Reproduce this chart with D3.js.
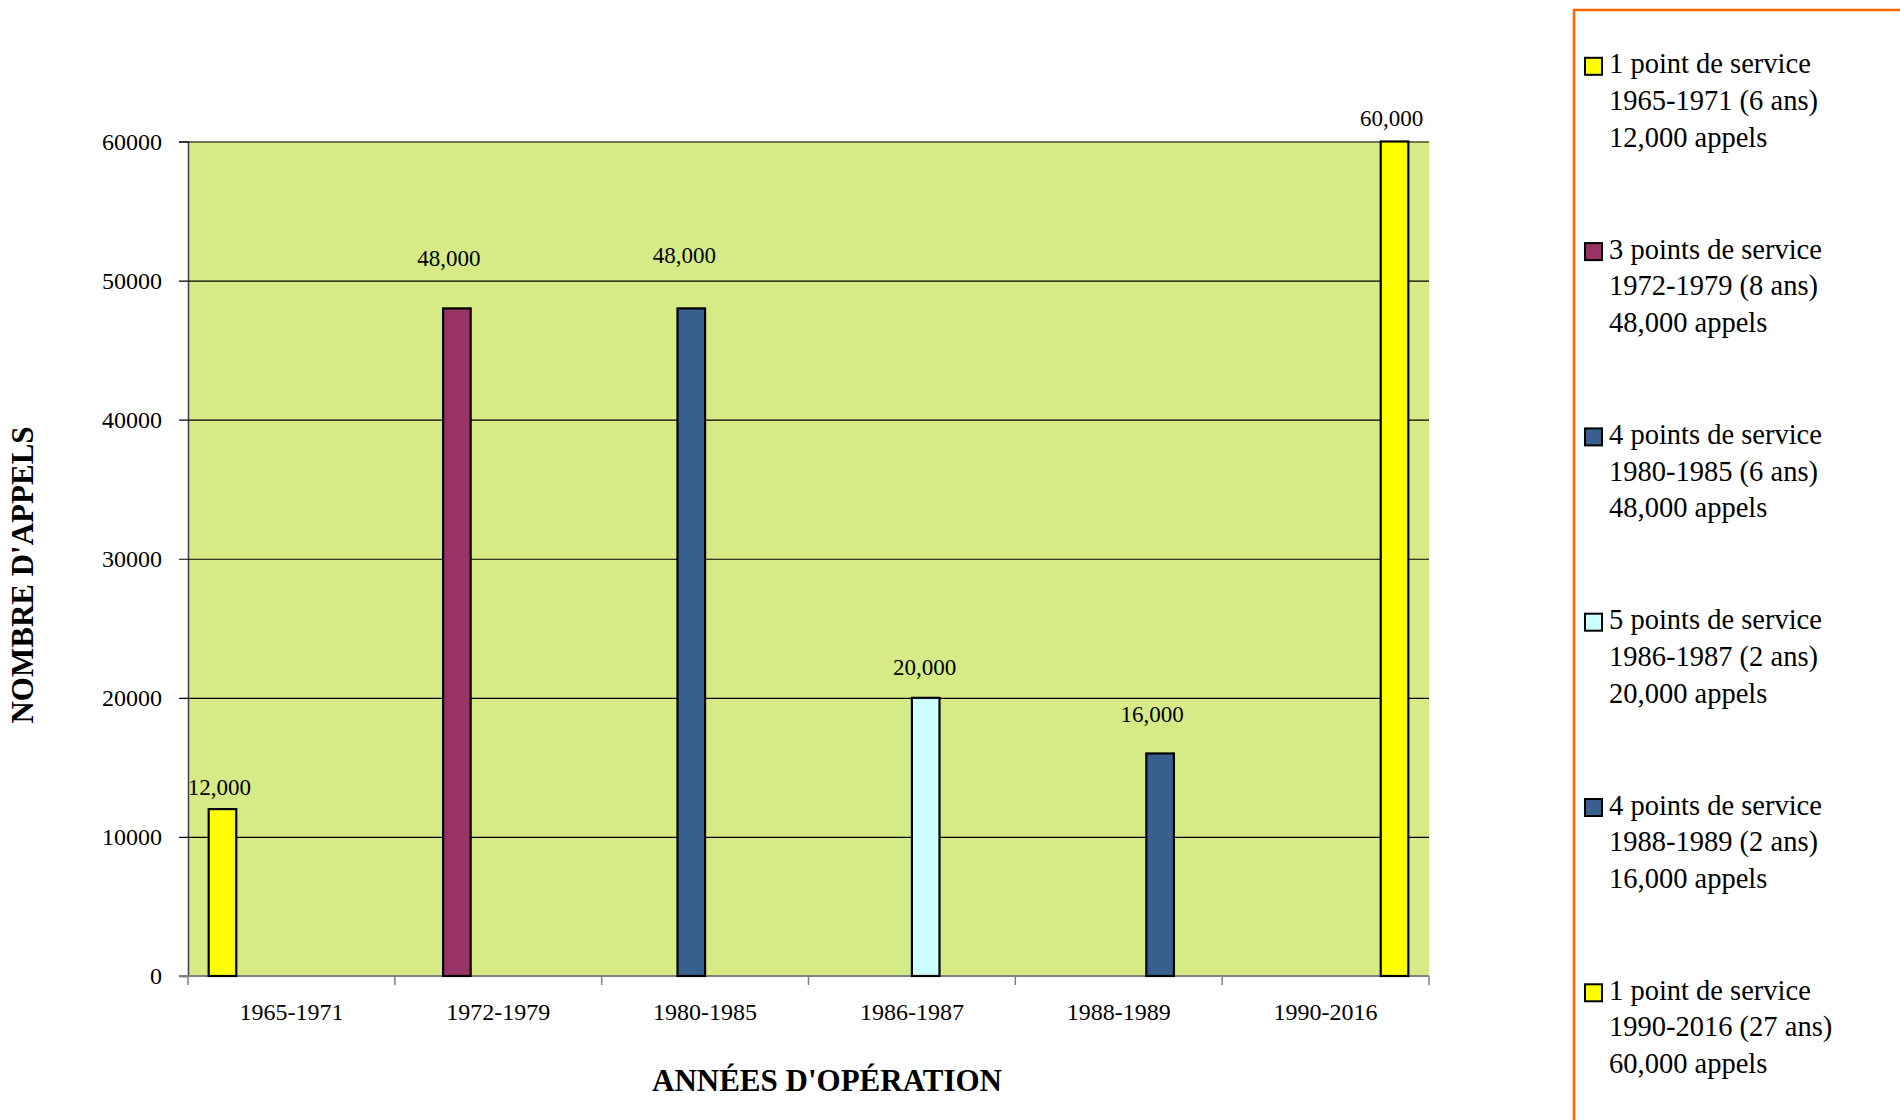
<!DOCTYPE html>
<html>
<head>
<meta charset="utf-8">
<script src="https://cdn.jsdelivr.net/npm/d3@7/dist/d3.min.js"></script>
<style>
  html, body { margin: 0; padding: 0; background: #ffffff; }
  svg { display: block; }
  text { font-family: "Liberation Serif", "DejaVu Serif", serif; fill: #000; }
</style>
</head>
<body>
<svg id="chart" width="1900" height="1120"></svg>
<script>
// Periods of operation (x categories)
const categories = ["1965-1971", "1972-1979", "1980-1985", "1986-1987", "1988-1989", "1990-2016"];
// Calls per period, one series per period
const calls = [12000, 48000, 48000, 20000, 16000, 60000];
// Legend texts
const servicePoints = ["1 point de service", "3 points de service", "4 points de service",
                       "5 points de service", "4 points de service", "1 point de service"];
const periodLabels = ["1965-1971 (6 ans)", "1972-1979 (8 ans)", "1980-1985 (6 ans)",
                      "1986-1987 (2 ans)", "1988-1989 (2 ans)", "1990-2016 (27 ans)"];
// Y axis ticks
const yTicks = [0, 10000, 20000, 30000, 40000, 50000, 60000];

// Series fills
const seriesColors = ["#FFFF00", "#993366", "#37608F", "#CCFFFF", "#37608F", "#FFFF00"];
// Hand-placed value labels: [dx, dy above bar top] in px
const labelNudge = [[-3, 14], [-8, 42], [-7, 45], [-1, 23], [-8, 31], [-3, 16]];

const serif = '"Liberation Serif", "DejaVu Serif", serif';
const svg = d3.select("#chart");
const plot = { left: 188, right: 1429, top: 141.5, bottom: 976 };

const x0 = d3.scaleBand().domain(categories).range([plot.left, plot.right]);
const x1 = d3.scaleBand().domain(d3.range(categories.length))
  .range([0, x0.bandwidth()]).paddingOuter(0.75);
const y = d3.scaleLinear().domain([0, 60000]).range([plot.bottom, plot.top]);
const fmt = d3.format(",");

// Plot background
svg.append("rect")
  .attr("x", plot.left).attr("y", plot.top)
  .attr("width", plot.right - plot.left).attr("height", plot.bottom - plot.top)
  .attr("fill", "#D6EB86");

// Y axis with gridlines
const yAxis = svg.append("g")
  .attr("transform", `translate(${plot.left},0)`)
  .call(d3.axisLeft(y).tickValues(yTicks).tickFormat(d => d).tickSize(9).tickPadding(17))
  .attr("font-family", serif).attr("font-size", 24);
yAxis.select(".domain").attr("stroke", "#404040").attr("stroke-width", 1.5);
yAxis.selectAll(".tick line")
  .attr("x1", d => d === 0 ? 0 : plot.right - plot.left)
  .attr("x2", -9)
  .attr("stroke", d => d === 0 ? "#808080" : "#000")
  .attr("stroke-width", 1.2);
yAxis.selectAll(".tick text").attr("fill", "#000");

// X axis line and boundary ticks
svg.append("line")
  .attr("x1", plot.left - 9).attr("x2", plot.right)
  .attr("y1", plot.bottom).attr("y2", plot.bottom)
  .attr("stroke", "#808080").attr("stroke-width", 2);
svg.append("g").selectAll("line")
  .data(categories.map(c => x0(c)).concat([plot.right]))
  .join("line")
  .attr("x1", d => d).attr("x2", d => d)
  .attr("y1", plot.bottom).attr("y2", plot.bottom + 9)
  .attr("stroke", "#808080").attr("stroke-width", 1.5);

const xAxis = svg.append("g")
  .attr("transform", `translate(0,${plot.bottom})`)
  .call(d3.axisBottom(x0).tickSize(0).tickPadding(27))
  .attr("font-family", serif).attr("font-size", 24);
xAxis.select(".domain").remove();
xAxis.selectAll(".tick text").attr("fill", "#000");

// Bars: each period carries its own series slot
const bars = categories.map((c, i) => ({ cat: c, series: i, value: calls[i] }));
svg.append("g").selectAll("rect")
  .data(bars)
  .join("rect")
  .attr("x", d => x0(d.cat) + x1(d.series))
  .attr("y", d => y(d.value))
  .attr("width", x1.bandwidth())
  .attr("height", d => y(0) - y(d.value))
  .attr("fill", d => seriesColors[d.series])
  .attr("stroke", "#000").attr("stroke-width", 2.2);

// Value labels
svg.append("g").selectAll("text")
  .data(bars)
  .join("text")
  .attr("x", d => x0(d.cat) + x1(d.series) + x1.bandwidth() / 2 + labelNudge[d.series][0])
  .attr("y", d => y(d.value) - labelNudge[d.series][1])
  .attr("text-anchor", "middle")
  .style("font-size", "23px")
  .text(d => fmt(d.value));

// Axis titles
svg.append("text")
  .attr("x", 827).attr("y", 1091)
  .attr("text-anchor", "middle")
  .style("font-size", "31px").style("font-weight", "bold")
  .text("ANNÉES D'OPÉRATION");
svg.append("text")
  .attr("transform", "translate(33,575) rotate(-90)")
  .attr("text-anchor", "middle")
  .style("font-size", "31px").style("font-weight", "bold")
  .text("NOMBRE D'APPELS");

// Legend
const legend = svg.append("g");
legend.append("rect")
  .attr("x", 1574).attr("y", 10)
  .attr("width", 360).attr("height", 1130)
  .attr("fill", "#fff").attr("stroke", "#FF6600").attr("stroke-width", 2.5);

const entry = legend.selectAll("g.entry")
  .data(categories.map((c, i) => i))
  .join("g").attr("class", "entry")
  .attr("transform", i => `translate(0,${73.3 + i * 185.3})`);
entry.append("rect")
  .attr("x", 1585).attr("y", -15.5)
  .attr("width", 17).attr("height", 17)
  .attr("fill", i => seriesColors[i])
  .attr("stroke", "#000").attr("stroke-width", 2);
entry.append("text")
  .attr("x", 1609).attr("y", 0)
  .style("font-size", "28.5px")
  .text(i => servicePoints[i]);
entry.append("text")
  .attr("x", 1609).attr("y", 36.7)
  .style("font-size", "28.5px")
  .text(i => periodLabels[i]);
entry.append("text")
  .attr("x", 1609).attr("y", 73.4)
  .style("font-size", "28.5px")
  .text(i => fmt(calls[i]) + " appels");
</script>
</body>
</html>
